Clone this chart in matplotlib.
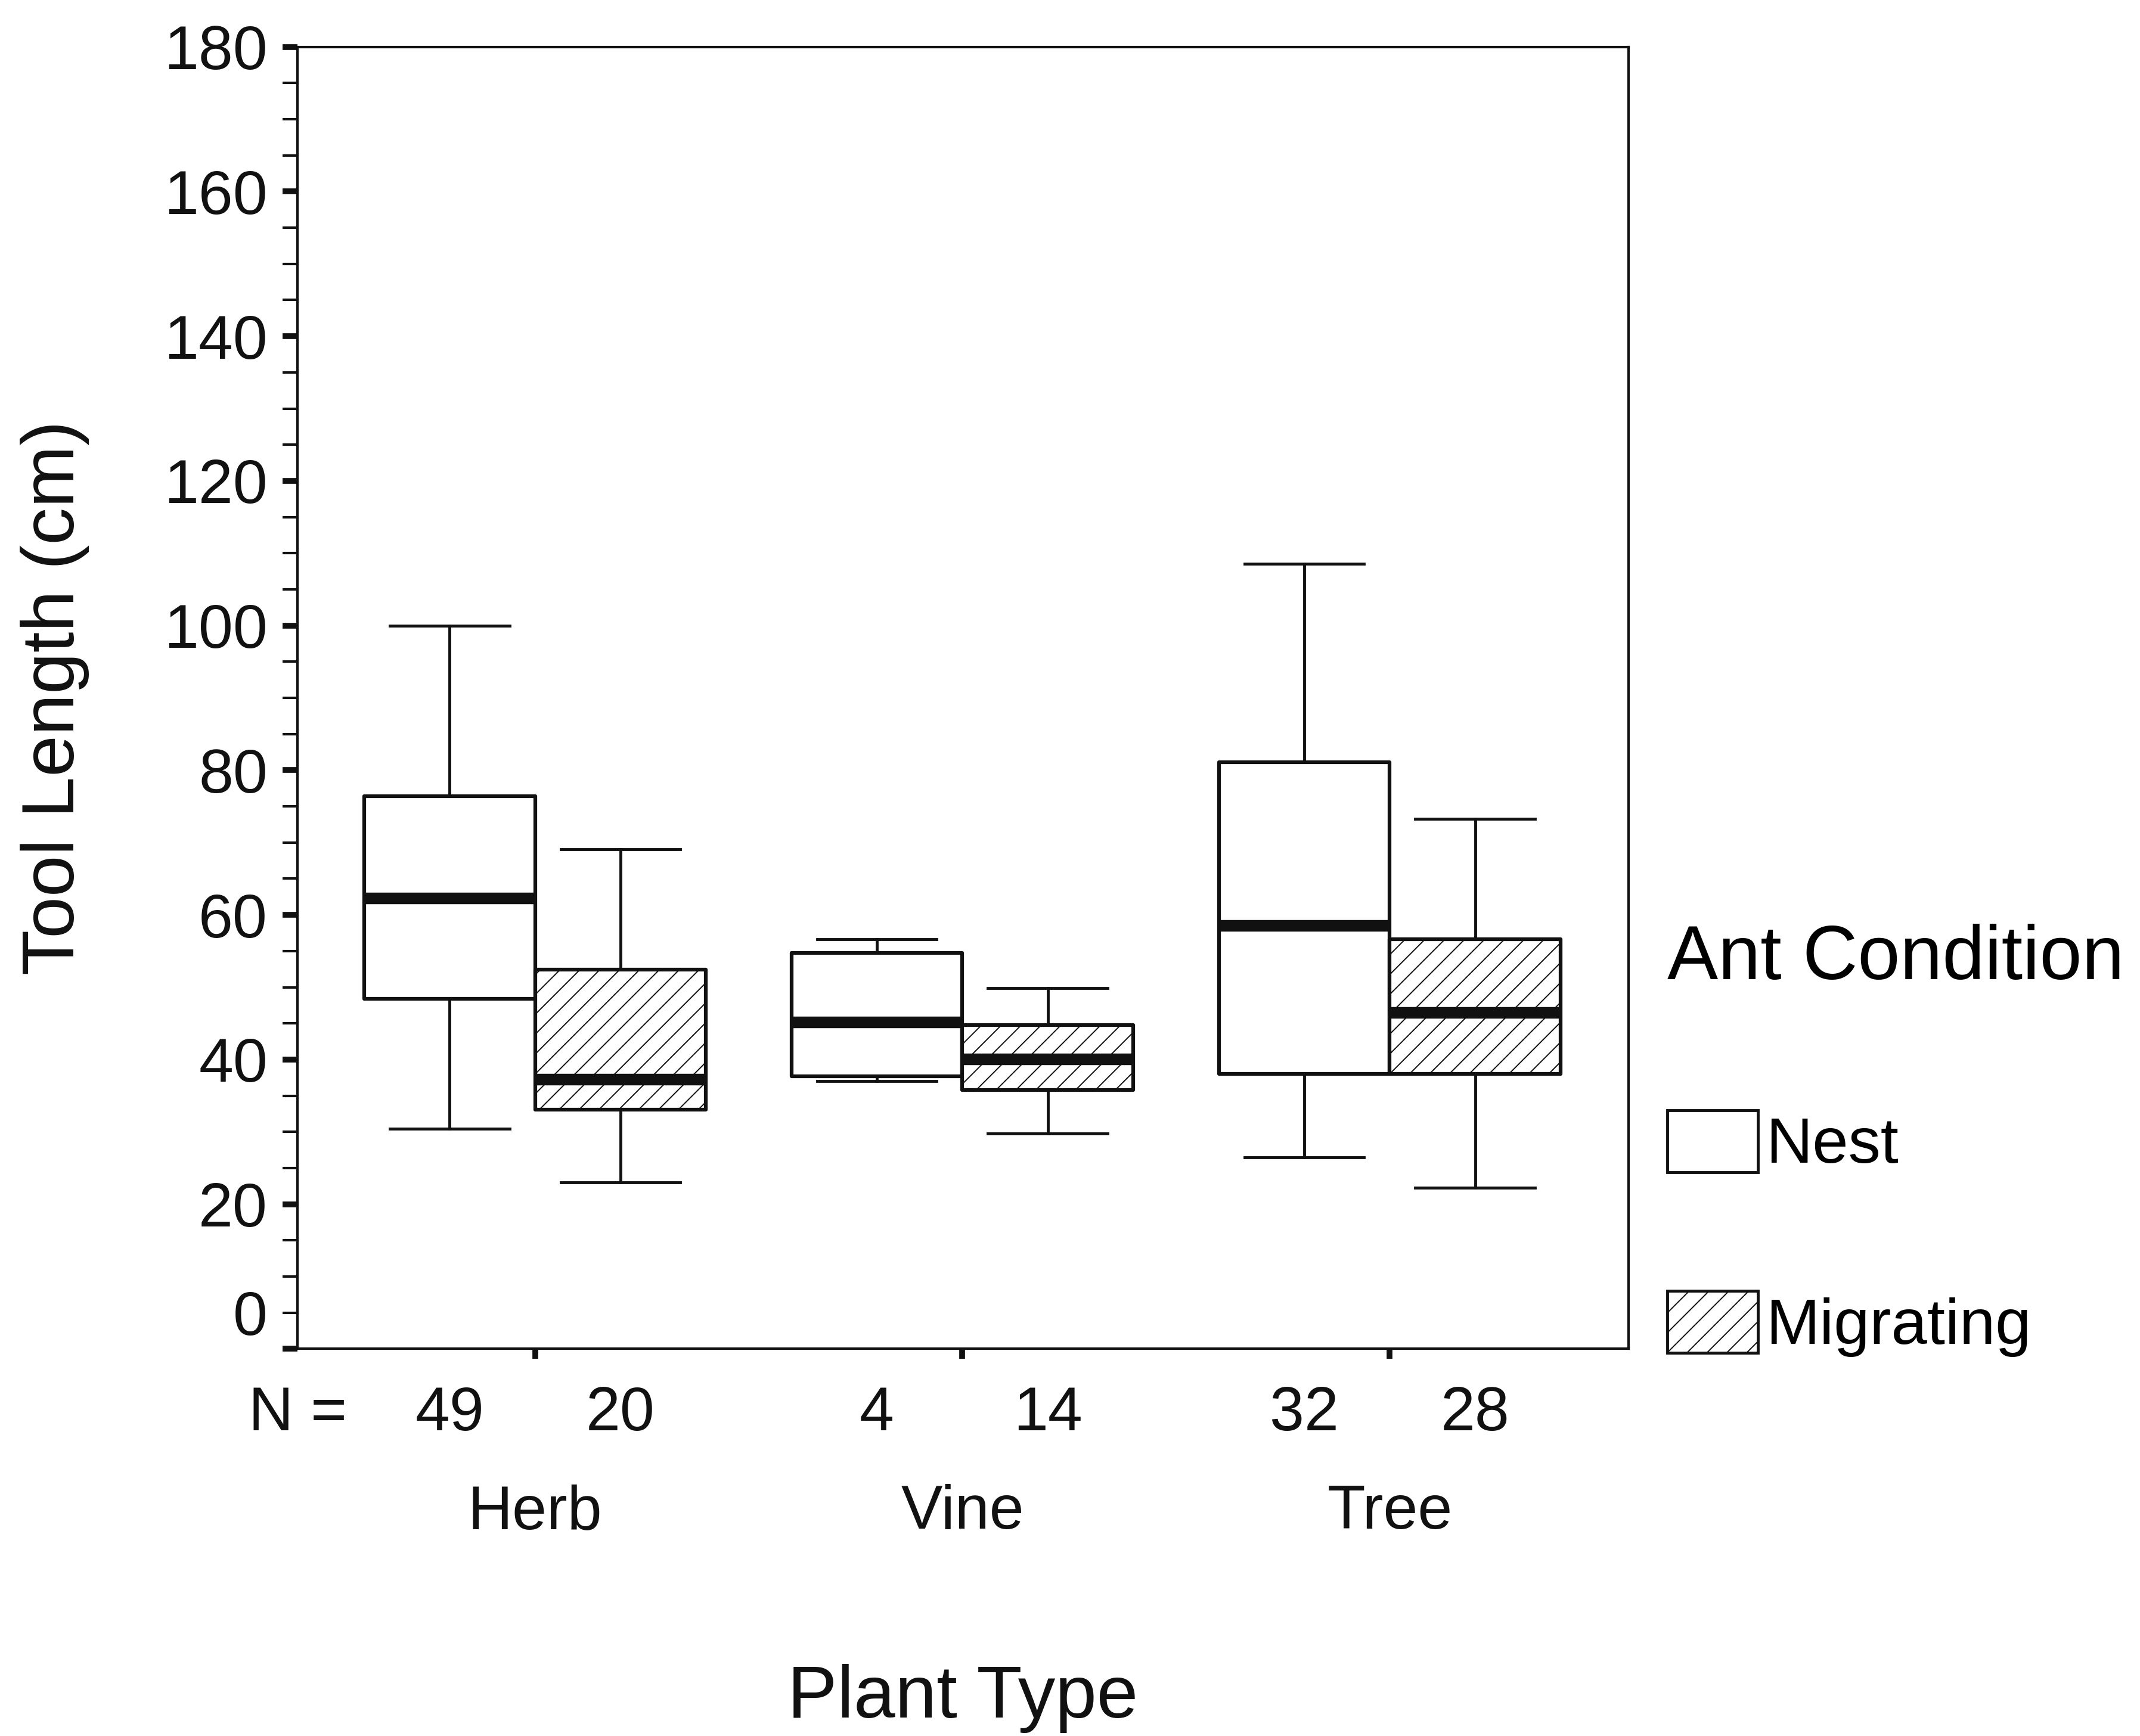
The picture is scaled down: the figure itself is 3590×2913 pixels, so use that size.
import matplotlib
matplotlib.use('Agg')
import matplotlib.pyplot as plt
from matplotlib.patches import Patch
import numpy as np

plt.rcParams['font.family'] = ['Liberation Sans', 'DejaVu Sans']
plt.rcParams['hatch.linewidth'] = 1.4
plt.rcParams['hatch.color'] = '#222222'

# ---------------- data ----------------
categories = ['Herb', 'Vine', 'Tree']
conditions = ['Nest', 'Migrating']
n_nest = [49, 4, 32]
n_mig = [20, 14, 28]

nest_whislo = [30.4, 37.0, 26.5]
nest_q1 = [48.4, 37.7, 38.0]
nest_med = [62.3, 45.2, 58.5]
nest_q3 = [76.4, 54.7, 81.1]
nest_whishi = [100.0, 56.6, 108.5]

mig_whislo = [23.0, 29.8, 22.3]
mig_q1 = [33.1, 35.8, 38.0]
mig_med = [37.3, 40.1, 46.5]
mig_q3 = [52.4, 44.8, 56.6]
mig_whishi = [69.1, 49.9, 73.3]

y_major = list(range(0, 181, 20))
y_minor = list(range(0, 181, 5))

ink = '#111111'


def make_stats(lo, q1, med, q3, hi):
    return [dict(whislo=a, q1=b, med=c, q3=d, whishi=e, fliers=[])
            for a, b, c, d, e in zip(lo, q1, med, q3, hi)]


fig = plt.figure(figsize=(35.9, 29.13), dpi=100)
ax = fig.add_axes([0.139, 0.223, 0.622, 0.750])

group_pos = np.arange(1, len(categories) + 1)
offset = 0.2
width = 0.4

common = dict(widths=width, capwidths=0.28, patch_artist=True,
              showfliers=False,
              whiskerprops=dict(color=ink, linewidth=3.5),
              capprops=dict(color=ink, linewidth=3.5),
              medianprops=dict(color=ink, linewidth=14, solid_capstyle='butt'))

ax.bxp(make_stats(nest_whislo, nest_q1, nest_med, nest_q3, nest_whishi),
       positions=group_pos - offset,
       boxprops=dict(facecolor='white', edgecolor=ink, linewidth=4.5,
                     joinstyle='round'),
       **common)
ax.bxp(make_stats(mig_whislo, mig_q1, mig_med, mig_q3, mig_whishi),
       positions=group_pos + offset,
       boxprops=dict(facecolor='white', edgecolor=ink, linewidth=4.5,
                     hatch='/', joinstyle='round'),
       **common)

ax.set_xlim(0.444, 3.559)
ax.set_ylim(0, 180)

# x axis: N counts (major) and category names (minor)
box_positions = np.ravel(np.column_stack([group_pos - offset, group_pos + offset]))
n_labels = [str(n) for pair in zip(n_nest, n_mig) for n in pair]
ax.set_xticks(box_positions)
ax.set_xticklabels(n_labels)
ax.set_xticks(group_pos, minor=True)
ax.set_xticklabels(categories, minor=True)
ax.tick_params(axis='x', which='major', length=0, pad=44, labelsize=75,
               colors=ink)
ax.tick_params(axis='x', which='minor', length=12, width=7, direction='out',
               pad=151, labelsize=75, colors=ink)
ax.annotate('N =', xy=(0, 0), xycoords='axes fraction', xytext=(0, -44),
            textcoords='offset points', ha='center', va='top', fontsize=75,
            color=ink)

# y axis
ax.set_yticks(y_major)
ax.set_yticklabels(['' if v == 0 else str(v) for v in y_major])
ax.set_yticks(y_minor, minor=True)
ax.tick_params(axis='y', which='major', length=18, width=7, pad=18,
               labelsize=75, colors=ink)
ax.tick_params(axis='y', which='minor', length=18, width=3, colors=ink)
ax.annotate('0', xy=(0, 5), xycoords=ax.get_yaxis_transform(),
            xytext=(-36, 0), textcoords='offset points', ha='right',
            va='center_baseline', fontsize=75, color=ink)

for s in ax.spines.values():
    s.set_linewidth(3)
    s.set_color(ink)

ax.set_ylabel('Tool Length (cm)', fontsize=90, labelpad=90, color=ink)
ax.set_xlabel('Plant Type', fontsize=90, labelpad=148, color=ink)

handles = [Patch(facecolor='white', edgecolor=ink, linewidth=3.5,
                 label=conditions[0]),
           Patch(facecolor='white', edgecolor=ink, linewidth=3.5, hatch='/',
                 label=conditions[1])]
fig.legend(handles=handles, title='Ant Condition', loc='upper left',
           bbox_to_anchor=(0.779, 0.468), frameon=False, fontsize=78,
           title_fontsize=92, handlelength=1.41, handleheight=1.1,
           handletextpad=0.12, labelspacing=1.78, borderpad=0,
           borderaxespad=0, alignment='left')

fig.savefig('out.png', dpi=100, facecolor='white')
